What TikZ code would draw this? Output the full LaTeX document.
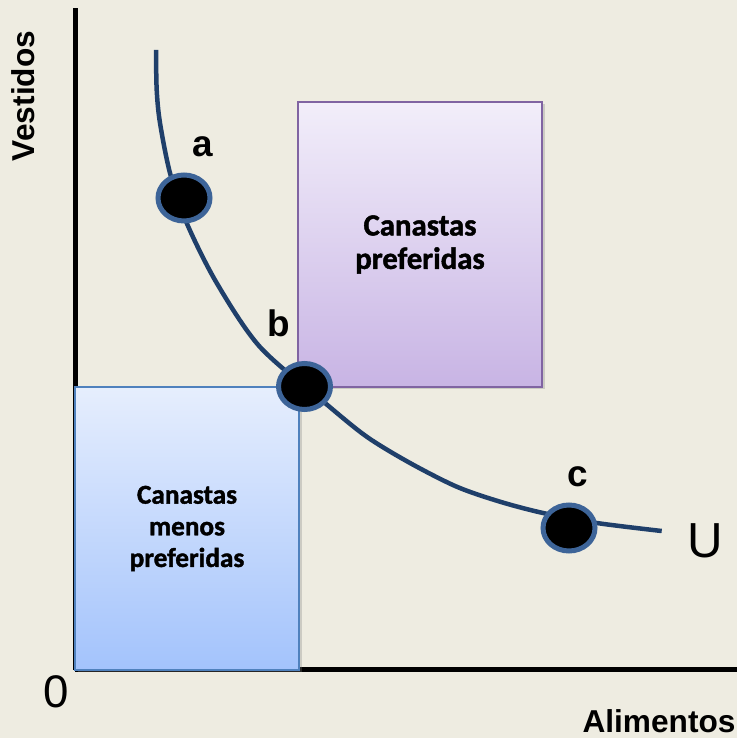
\documentclass[tikz,border=0pt]{standalone}
\usepackage{fontspec}
\setmainfont{Liberation Sans}
\newfontfamily\calibrifont{Carlito}[BoldFeatures={FakeBold=1.5}]
\usetikzlibrary{shapes.geometric,shadows}

\definecolor{bgtan}{HTML}{EEECE1}
\definecolor{curveblue}{HTML}{1F3F6A}
\definecolor{dotrim}{HTML}{3D6498}
\definecolor{prefline}{HTML}{8064A2}
\definecolor{preftop}{HTML}{F2EEFA}
\definecolor{prefbot}{HTML}{C8B4E4}
\definecolor{lessline}{HTML}{4F81BD}
\definecolor{lesstop}{HTML}{E6EEFD}
\definecolor{lessbot}{HTML}{A3C3FC}

\begin{document}
\begin{tikzpicture}[scale=1,
    axis/.style={black, line width=0.1cm},
    dot/.style={ellipse, draw=dotrim, fill=black, line width=0.1cm,
      minimum width=1.04cm, minimum height=0.92cm, inner sep=0pt},
    ptlabel/.style={font=\fontsize{21}{25}\selectfont\bfseries, anchor=base},
    basket/.style={line width=0.04cm, align=center, inner sep=0pt,
      drop shadow={shadow xshift=0.05cm, shadow yshift=-0.05cm, opacity=0.3}}]
	  \fill[bgtan] (-1.5,-1.36) rectangle (13.24,13.4);
	  \useasboundingbox (-1.5,-1.36) rectangle (13.24,13.4);

	  % axes
	  \draw[axis] (0,0) -- (0,13.24);
	  \draw[axis] (0,0) -- (13.24,0);

	  \node[black, font=\fontsize{26}{30}\selectfont, anchor=base] (zero) at (-0.38,-0.76) {0};
	  \node[black, font=\fontsize{18}{22}\selectfont\bfseries, anchor=base] (food) at (11.68,-1.24) {Alimentos};
	  \node[black, font=\fontsize{18}{22}\selectfont\bfseries, anchor=base, rotate=90] (clothes) at (-0.8,11.48) {Vestidos};

	  % baskets
	  \node[basket, draw=prefline, top color=preftop, bottom color=prefbot,
	    minimum width=4.88cm, minimum height=5.70cm,
	    font=\calibrifont\fontsize{17.5}{19}\selectfont\bfseries] (pref) at (6.90,8.51) {Canastas\\preferidas};
	  \node[basket, draw=lessline, top color=lesstop, bottom color=lessbot,
	    minimum width=4.48cm, minimum height=5.66cm,
	    font=\calibrifont\fontsize{15.5}{18}\selectfont\bfseries] (less) at (2.24,2.83) {Canastas\\menos\\preferidas};

	  % indifference curve
	  \draw[curveblue, line width=0.09cm] plot[smooth, tension=0.5] coordinates {
	    (1.62,12.40) (1.634,11.60) (1.70,10.94) (1.90,9.94) (2.234,8.94)
	    (2.834,7.74) (3.70,6.46) (5.00,5.34) (5.834,4.666)
	    (6.70,4.14) (7.634,3.666) (8.50,3.366) (9.36,3.14) (10.434,2.94)
	    (11.734,2.78)};
	  \node[black, font=\fontsize{28}{32}\selectfont, anchor=base] (U) at (12.6,2.24) {U};

	  % baskets on the curve
	  \node[dot] (a) at (2.18,9.44) {};
	  \node[dot] (b) at (4.59,5.67) {};
	  \node[dot] (c) at (9.88,2.84) {};

	  \node[ptlabel] (la) at (2.56,10.26) {a};
	  \node[ptlabel] (lb) at (4.08,6.66) {b};
	  \node[ptlabel] (lc) at (10.06,3.66) {c};
	\end{tikzpicture}
\end{document}
